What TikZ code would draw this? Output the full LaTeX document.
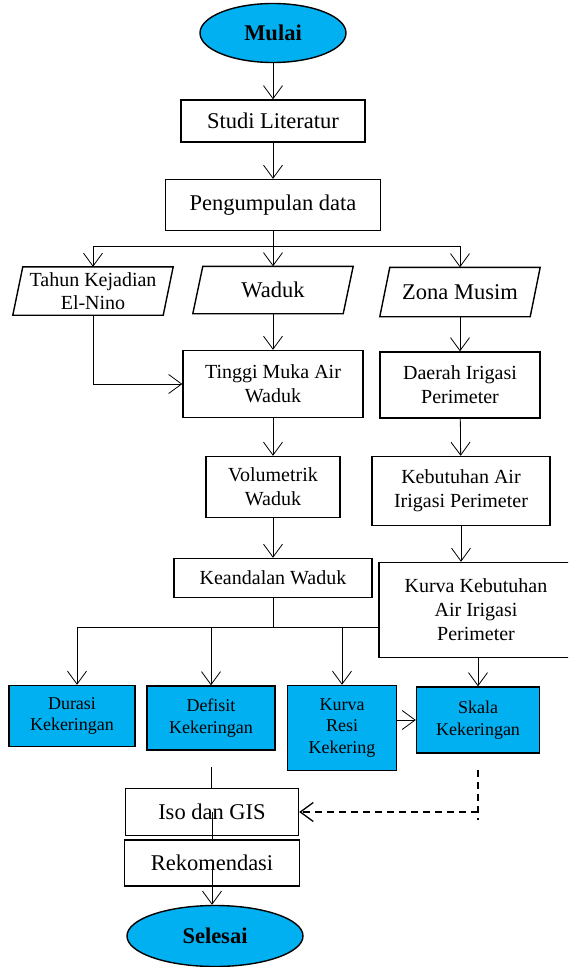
\documentclass[tikz,border=0pt]{standalone}
\usepackage{fontspec}
\setmainfont{Liberation Serif}
\usetikzlibrary{arrows.meta, shapes.geometric}
\definecolor{flowblue}{RGB}{0,176,240}

\tikzset{
    box/.style={draw, line width=1.4pt, align=center, inner sep=0pt, font=\fontsize{22.5}{26}\selectfont},
    midbox/.style={box, font=\fontsize{20}{24}\selectfont},
    bluebox/.style={box, fill=flowblue, font=\fontsize{18}{21.7}\selectfont},
    term/.style={draw, ellipse, line width=1.4pt, fill=flowblue, inner sep=0pt, font=\fontsize{22.5}{26}\bfseries\selectfont},
    data/.style={align=center, inner sep=0pt, minimum width=150pt},
    arr/.style={-{Straight Barb[length=13pt,width=19pt]}, line width=0.8pt},
    link/.style={line width=0.8pt},
    dashlink/.style={line width=1.3pt, dash pattern=on 7pt off 5pt}
}

\begin{document}
\begin{tikzpicture}[x=1pt, y=-1pt]
        \useasboundingbox (0,0) rectangle (568,967);
        \clip (0,0) rectangle (568,967);

        \node[term, minimum width=146pt, minimum height=59pt] (mulai) at (273,33) {Mulai};
        \node[box, minimum width=184pt, minimum height=42pt] (studi) at (273,121) {Studi Literatur};
        \node[box, minimum width=215pt, minimum height=51pt] (kumpul) at (273,205) {Pengumpulan data};

        \node[data, minimum height=48pt, font=\fontsize{20}{23}\selectfont] (tahun) at (93,291) {Tahun Kejadian\\El-Nino};
        \node[data, minimum height=47pt, font=\fontsize{22.5}{26}\selectfont] (waduk) at (273,290) {Waduk};
        \node[data, minimum height=49pt, font=\fontsize{22.5}{26}\selectfont] (zona) at (460,292) {Zona Musim};
        \foreach \p in {tahun, waduk, zona}
            \draw[line width=1.4pt] ([xshift=5pt]\p.north west) -- ([xshift=5pt]\p.north east)
                -- ([xshift=-5pt]\p.south east) -- ([xshift=-5pt]\p.south west) -- cycle;

        \node[midbox, minimum width=180pt, minimum height=67pt] (tinggi) at (273,384) {Tinggi Muka Air\\Waduk};
        \node[midbox, minimum width=160pt, minimum height=66pt] (daerah) at (460,385) {Daerah Irigasi\\Perimeter};
        \node[midbox, minimum width=134pt, minimum height=61pt] (volum) at (273,487) {Volumetrik\\Waduk};
        \node[midbox, minimum width=178pt, minimum height=69pt] (kebut) at (461,491) {Kebutuhan Air\\Irigasi Perimeter};
        \node[midbox, minimum width=198pt, minimum height=39pt] (andal) at (273,578) {Keandalan Waduk};
        \node[midbox, minimum width=194pt, minimum height=95pt] (kurva) at (476,610) {Kurva Kebutuhan\\Air Irigasi\\Perimeter};

        \node[bluebox, minimum width=126pt, minimum height=61pt] (durasi) at (72,716) {Durasi\\Kekeringan};
        \node[bluebox, minimum width=128pt, minimum height=64pt] (defisit) at (211,718) {Defisit\\Kekeringan};
        \node[bluebox, minimum width=109pt, minimum height=85pt] (resi) at (342,728) {Kurva\\Resi\\Kekering};
        \node[bluebox, minimum width=123pt, minimum height=66pt] (skala) at (478,720) {Skala\\Kekeringan};

        \node[box, minimum width=173pt, minimum height=47pt] (iso) at (212,812) {Iso dan GIS};
        \node[box, minimum width=175pt, minimum height=46pt] (rekom) at (212,863) {Rekomendasi};
        \node[term, minimum width=176pt, minimum height=61pt] (selesai) at (215,936) {Selesai};

        \coordinate (bl) at (93,246);
        \coordinate (br) at (460,246);
        \coordinate (row) at (77,627);
        \coordinate (dtop) at (211,767);
        \coordinate (dstart) at (478,770);
        \coordinate (dend) at (478,820);

        \draw[arr] (mulai) -- (studi);
        \draw[arr] (studi) -- (kumpul);
        \draw[link] (kumpul) -- (kumpul |- bl);
        \draw[link] (bl) -- (br);
        \draw[arr] (bl) -- (tahun);
        \draw[arr] (kumpul |- bl) -- (waduk);
        \draw[arr] (br) -- (zona);

        \draw[arr] (tahun) |- (tinggi);
        \draw[arr] (waduk) -- (tinggi);
        \draw[arr] (zona) -- (daerah);
        \draw[arr] (tinggi) -- (volum);
        \draw[arr] (daerah) -- (kebut);
        \draw[arr] (volum) -- (andal);
        \draw[arr] (kebut) -- (kebut |- kurva.north);

        \draw[link] (andal) -- (andal |- row);
        \draw[link] (row) -- (row -| kurva.west);
        \draw[arr] (row) -- (row |- durasi.north);
        \draw[arr] (defisit |- row) -- (defisit);
        \draw[arr] (resi |- row) -- (resi);
        \draw[arr] (skala |- kurva.south) -- (skala);
        \draw[arr] (resi.east |- skala) -- (skala.west);

        \draw[link] (dtop) -- (dtop |- iso.north);
        \draw[link] (iso.center) -- (iso.center |- rekom.north);
        \draw[arr] (rekom.center) -- (rekom.center |- selesai.north);

        \draw[dashlink] (dstart) -- (dend);
        \draw[arr, dashlink] (dstart |- iso.east) -- (iso.east);
    \end{tikzpicture}
\end{document}
